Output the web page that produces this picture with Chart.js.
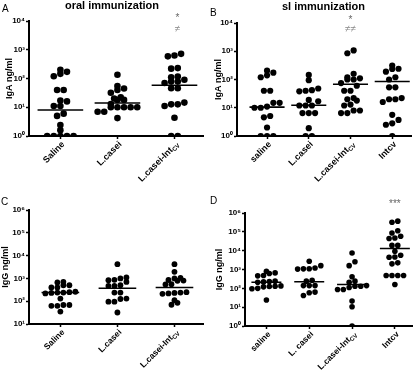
<!DOCTYPE html>
<html><head><meta charset="utf-8">
<script src="https://cdn.jsdelivr.net/npm/chart.js@4.4.1/dist/chart.umd.min.js"></script>
<style>
body{margin:0;background:#fff;width:416px;height:372px;position:relative;overflow:hidden}
canvas{position:absolute}
</style></head><body>
<canvas id="cA" width="208" height="186" style="left:0;top:0"></canvas>
<canvas id="cB" width="208" height="186" style="left:208px;top:0"></canvas>
<canvas id="cC" width="208" height="186" style="left:0;top:186px"></canvas>
<canvas id="cD" width="208" height="186" style="left:208px;top:186px"></canvas>
<script>
// ---------- DATA ----------
// Category labels ("|" marks a subscript part)
const catsA = ['Saline', 'L.casei', 'L.casei-Int|CV'];
const catsB = ['saline', 'L.casei', 'L.casei-Int|CV', 'Intcv'];
const catsC = ['Saline', 'L.casei', 'L.casei-Int|CV'];
const catsD = ['saline', 'L. casei', 'L.casei-Int|CV', 'Intcv'];

// Panel A: IgA ng/ml, oral immunization
const A_saline = [200, 170, 145, 120, 40, 40, 17, 16, 11, 11, 6, 5, 2.4, 1.6, 1, 1, 1, 1, 1];
const A_lcasei = [135, 55, 45, 40, 32, 22, 20, 18, 18, 13, 10, 10, 10, 10, 10, 7, 7, 4.2];
const A_lcaseiInt = [720, 630, 590, 230, 220, 118, 110, 90, 78, 78, 70, 46, 46, 14.5, 12.6, 12.6, 11, 4.3, 1, 1];
const A_medians = [8, 14, 58];

// Panel B: IgA ng/ml, sl immunization
const B_saline = [205, 175, 140, 120, 40, 40, 15, 15, 11, 10, 10, 5.1, 4.6, 2, 1, 1, 1];
const B_lcasei = [145, 95, 48, 42, 40, 38, 19, 17, 12, 12, 12, 6.5, 6.5, 6.5, 1.9, 1, 1];
const B_lcaseiInt = [1070, 850, 160, 120, 110, 100, 100, 75, 60, 40, 40, 22, 20, 18, 13, 12, 8, 8, 6.5, 6.5];
const B_intcv = [310, 240, 235, 190, 120, 100, 53, 53, 22, 20, 20, 16, 5.6, 3.7, 2.8, 2.5, 1];
const B_medians = [10.5, 12.3, 68, 85];

// Panel C: IgG ng/ml, oral immunization
const C_saline = [710, 660, 500, 500, 400, 400, 260, 250, 240, 240, 230, 220, 130, 68, 68, 63, 63, 35];
const C_lcasei = [4200, 1100, 1000, 870, 830, 700, 500, 470, 470, 240, 240, 130, 125, 95, 95, 32];
const C_lcaseiInt = [4200, 1950, 1050, 1000, 850, 800, 780, 560, 540, 250, 240, 230, 220, 210, 110, 85, 70];
const C_medians = [240, 370, 400];

// Panel D: IgG ng/ml, sl immunization
const D_saline = [810, 660, 610, 480, 460, 240, 230, 220, 210, 135, 130, 125, 120, 100, 95, 24];
const D_lcasei = [2750, 1600, 1200, 1100, 1080, 1050, 270, 240, 140, 140, 140, 63, 58, 42];
const D_lcaseiInt = [7500, 2600, 1600, 410, 240, 210, 140, 130, 130, 110, 87, 87, 21, 10.5, 1];
const D_intcv = [370000, 320000, 115000, 87000, 58000, 47000, 44000, 19000, 19000, 9300, 5700, 4600, 4500, 2250, 2000, 480, 480, 480, 480, 160];
const D_medians = [210, 224, 160, 13000];

// Significance marks
const A_marks = [{cat: 3, text: '*'}, {cat: 3, text: '≠'}];
const B_marks = [{cat: 3, text: '*'}, {cat: 3, text: '≠≠'}];
const D_marks = [{cat: 4, text: '***'}];

// ---------- RENDERING ----------
const FAM = '"Liberation Sans", Arial, Helvetica, sans-serif';
const SUP = ['⁰', '¹', '²', '³', '⁴', '⁵', '⁶', '⁷'];
function powLabel(v) { return '10' + SUP[Math.round(Math.log10(v))]; }

function textPlugin(cfg) {
  return {
    id: 'txt',
    afterDraw(chart) {
      const c = chart.ctx, xs = chart.scales.x, ca = chart.chartArea;
      c.save();
      c.fillStyle = '#000';
      c.font = '10px ' + FAM; c.textAlign = 'left'; c.textBaseline = 'alphabetic';
      c.fillText(cfg.letter.t, cfg.letter.x, cfg.letter.y);
      if (cfg.title) {
        c.font = 'bold 11px ' + FAM; c.textAlign = 'center';
        c.fillText(cfg.title.t, cfg.title.x, cfg.title.y);
      }
      c.save();
      c.translate(cfg.ytitle.x, (ca.top + ca.bottom) / 2);
      c.rotate(-Math.PI / 2);
      c.font = 'bold 9px ' + FAM; c.textAlign = 'center'; c.textBaseline = 'middle';
      c.fillText(cfg.ytitle.t, 0, 0);
      c.restore();
      cfg.cats.forEach((lab, i) => {
        const px = xs.getPixelForValue(i + 1);
        const parts = lab.split('|');
        c.save();
        c.translate(px + cfg.lab.dx, ca.bottom + cfg.lab.dy);
        c.rotate(-Math.PI / 4);
        c.textAlign = 'right'; c.textBaseline = 'middle';
        let off = 0;
        if (parts[1]) {
          c.font = 'bold 6px ' + FAM;
          c.fillText(parts[1], 0, 2.5);
          off = c.measureText(parts[1]).width;
        }
        c.font = 'bold ' + cfg.lab.size + 'px ' + FAM;
        c.fillText(parts[0], -off, 0);
        c.restore();
      });
      if (cfg.marks) {
        c.textAlign = 'center'; c.textBaseline = 'middle';
        cfg.marks.forEach((m, k) => {
          const px = xs.getPixelForValue(m.cat);
          c.fillStyle = k === 0 ? '#666' : '#8a8a8a';
          c.font = '10px ' + FAM;
          c.fillText(m.text, px + (cfg.markDx || 0), cfg.markY[k]);
        });
      }
      c.restore();
    }
  };
}

// Row-grouped scatter layout computed from the values through the chart's own scales
function swarm(values, cat, chart, cfg) {
  const xs = chart.scales.x, ys = chart.scales.y;
  const ppu = xs.getPixelForValue(2) - xs.getPixelForValue(1);
  const items = values.map(v => ({v, py: ys.getPixelForValue(v)})).sort((a, b) => b.py - a.py);
  const groups = []; let g = null;
  for (const it of items) {
    if (!g || g[0].py - it.py > cfg.thr) { g = [it]; groups.push(g); } else g.push(it);
  }
  const out = [];
  groups.forEach(gr => {
    const n = gr.length;
    gr.forEach((it, i) => {
      const off = (i - (n - 1) / 2) * cfg.gap;
      out.push({x: cat + off / ppu, y: it.v});
    });
  });
  return out;
}

function makePanel(cfg) {
  const axisGrid = {display: true, drawOnChartArea: false, drawTicks: true, tickLength: 3, tickWidth: 1.5, tickColor: '#000'};
  const axisBorder = {display: true, color: '#000', width: 2};
  const med = [];
  cfg.medians.forEach((m, i) => {
    med.push({x: i + 1 - cfg.medHalf, y: m}, {x: i + 1 + cfg.medHalf, y: m}, {x: i + 1.5, y: null});
  });
  const exps = [];
  for (let e = Math.round(Math.log10(cfg.ymin)); e <= Math.round(Math.log10(cfg.ymax)); e++) exps.push(Math.pow(10, e));
  const chart = new Chart(document.getElementById(cfg.id), {
    type: 'scatter',
    data: {datasets: [
      {data: [], pointRadius: cfg.r, pointHoverRadius: cfg.r, backgroundColor: '#000', borderWidth: 0, showLine: false},
      {data: med, showLine: true, borderColor: '#000', borderWidth: 1.6, pointRadius: 0, spanGaps: false}
    ]},
    options: {
      responsive: false, animation: false, events: [],
      layout: {padding: {left: 0, top: cfg.area.top, right: 208 - cfg.area.right, bottom: 0}},
      plugins: {legend: {display: false}, tooltip: {enabled: false}, title: {display: false}},
      scales: {
        x: {type: 'linear', min: cfg.xmin, max: cfg.xmax,
            afterFit: s => { s.height = 186 - cfg.area.bottom; },
            afterBuildTicks: s => { s.ticks = cfg.cats.map((c, i) => ({value: i + 1})); },
            ticks: {display: false}, grid: axisGrid, border: axisBorder},
        y: {type: 'logarithmic', min: cfg.ymin, max: cfg.ymax,
            afterFit: s => { s.width = cfg.area.left; },
            afterBuildTicks: s => { s.ticks = exps.map(v => ({value: v, major: true})); },
            ticks: {callback: v => powLabel(v), autoSkip: false, color: '#000', padding: 1,
                    font: {family: FAM, size: 8, weight: 'bold'}},
            grid: axisGrid, border: axisBorder}
      }
    },
    plugins: [textPlugin(cfg)]
  });
  let pts = [];
  cfg.series.forEach((vals, i) => { pts = pts.concat(swarm(vals, i + 1, chart, cfg)); });
  chart.data.datasets[0].data = pts;
  chart.update('none');
}

makePanel({id: 'cA', cats: catsA, series: [A_saline, A_lcasei, A_lcaseiInt], medians: A_medians,
  area: {left: 29, right: 203, top: 21, bottom: 136}, xmin: 0.45, xmax: 3.5, ymin: 1, ymax: 1e4,
  r: 3.3, gap: 6.6, thr: 5, medHalf: 0.4, lab: {dx: 3, dy: 7, size: 9},
  letter: {t: 'A', x: 2, y: 11.5}, title: {t: 'oral immunization', x: 112, y: 8.5},
  ytitle: {t: 'IgA ng/ml', x: 10}, marks: A_marks, markY: [18, 29], markDx: 3});

makePanel({id: 'cB', cats: catsB, series: [B_saline, B_lcasei, B_lcaseiInt, B_intcv], medians: B_medians,
  area: {left: 29, right: 203, top: 23, bottom: 136}, xmin: 0.28, xmax: 4.45, ymin: 1, ymax: 1e4,
  r: 3.1, gap: 6.3, thr: 5, medHalf: 0.42, lab: {dx: 3, dy: 7, size: 9},
  letter: {t: 'B', x: 2, y: 16}, title: {t: 'sl immunization', x: 115.5, y: 10},
  ytitle: {t: 'IgA ng/ml', x: 11}, marks: B_marks, markY: [20, 29], markDx: 0});

makePanel({id: 'cC', cats: catsC, series: [C_saline, C_lcasei, C_lcaseiInt], medians: C_medians,
  area: {left: 29, right: 203, top: 24, bottom: 138}, xmin: 0.45, xmax: 3.5, ymin: 10, ymax: 1e6,
  r: 2.9, gap: 6, thr: 4.2, medHalf: 0.33, lab: {dx: 3, dy: 7, size: 8.5},
  letter: {t: 'C', x: 1, y: 19},
  ytitle: {t: 'IgG ng/ml', x: 6}});

makePanel({id: 'cD', cats: catsD, series: [D_saline, D_lcasei, D_lcaseiInt, D_intcv], medians: D_medians,
  area: {left: 37, right: 204, top: 27, bottom: 140}, xmin: 0.5, xmax: 4.4, ymin: 1, ymax: 1e6,
  r: 2.8, gap: 5.8, thr: 4, medHalf: 0.35, lab: {dx: 3, dy: 7, size: 8.5},
  letter: {t: 'D', x: 2, y: 18},
  ytitle: {t: 'IgG ng/ml', x: 12}, marks: D_marks, markY: [18], markDx: 0});
</script>
</body></html>
